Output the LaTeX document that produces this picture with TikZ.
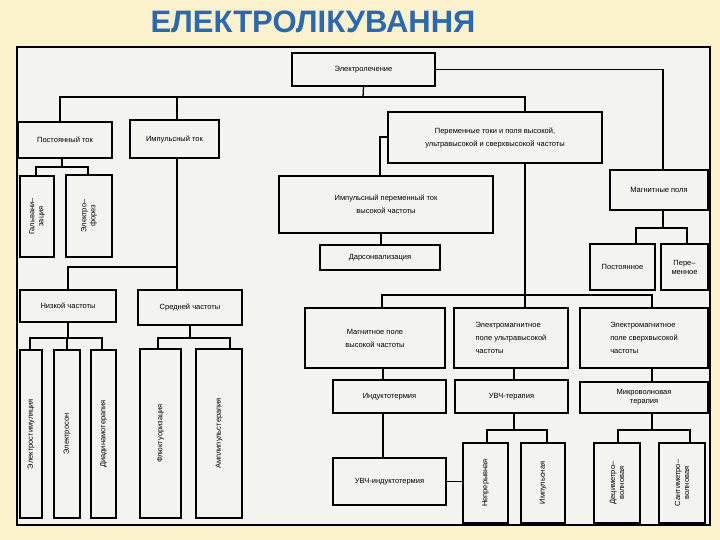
\documentclass[tikz,border=0pt]{standalone}
\usepackage{fontspec}
\setmainfont{Liberation Sans}
\definecolor{bgy}{HTML}{FBF1CC}
\definecolor{paper}{HTML}{F3F3EF}
\definecolor{ttl}{HTML}{2A68B4}
\newcommand\B[7][]{\node[bx,#1,minimum width={(#5-#3)*1pt},minimum height={(#6-#4)*1pt}] (#2) at ({(#3+#5)/2},{(#4+#6)/2}) {#7};}
\newcommand\V[7][]{\node[bx,vt,#1,minimum height={(#5-#3)*1pt},minimum width={(#6-#4)*1pt}] (#2) at ({(#3+#5)/2},{(#4+#6)/2}) {#7};}
\tikzset{bx/.style={draw,line width=1.6pt,inner sep=1pt,align=center,font=\fontsize{7.5}{13}\selectfont},
  vt/.style={rotate=90,font=\fontsize{7.5}{9}\selectfont},
  ln/.style={line width=1.3pt}}
\begin{document}
\begin{tikzpicture}[x=1pt,y=-1pt]
\fill[bgy] (0,0) rectangle (720,540);
\useasboundingbox (0,0) rectangle (720,540);
\node[font=\fontsize{31}{34}\selectfont\bfseries,text=ttl] (t) at (313,22) {ЕЛЕКТРОЛІКУВАННЯ};
\draw[fill=paper,line width=1.8pt] (17,47) rectangle (710,525);
% boxes
\B{el}{292}{53}{435}{86}{Электролечение}
\B{pt}{18}{122}{112}{158}{Постоянный ток}
\B{it}{130}{120}{219}{158}{Импульсный ток}
\V{gal}{20}{176}{54}{257}{Гальвани–\\зация}
\V{ef}{66}{175}{112}{257}{Электро–\\форез}
\B{nch}{20}{290}{116}{322}{Низкой частоты}
\B{sch}{138}{290}{242}{325}{Средней частоты}
\V{es}{20}{350}{42}{518}{Электростимуляция}
\V{eson}{54}{350}{80}{518}{Электросон}
\V{dd}{91}{350}{116}{518}{Диадинамотерапия}
\V{fl}{140}{349}{181}{518}{Флюктуоризация}
\V{am}{196}{349}{242}{518}{Амплипульстерапия}
\B{pr}{388}{112}{602}{163}{Переменные токи и поля высокой,\\ультравысокой и сверхвысокой частоты}
\B{ip}{279}{176}{493}{233}{Импульсный переменный ток\\высокой частоты}
\B{dar}{320}{245}{440}{270}{Дарсонвализация}
\B{mp}{610}{170}{708}{210}{Магнитные поля}
\B{pos}{590}{244}{655}{290}{Постоянное}
\B[font=\fontsize{7.5}{9}\selectfont]{per}{661}{244}{708}{290}{Пере–\\менное}
\B{mvch}{305}{308}{445}{368}{Магнитное поле\\высокой частоты}
\B[align=left]{uvch}{454}{308}{568}{368}{Электромагнитное\\поле ультравысокой\\частоты}
\B[align=left]{svch}{580}{308}{708}{368}{Электромагнитное\\поле сверхвысокой\\частоты}
\B{ind}{333}{380}{446}{413}{Индуктотермия}
\B{uvt}{455}{380}{568}{413}{УВЧ-терапия}
\B[font=\fontsize{7.5}{9}\selectfont]{mvt}{580}{382}{708}{413}{Микроволновая\\терапия}
\B{uvi}{333}{458}{446}{505}{УВЧ-индуктотермия}
\V{nep}{463}{443}{508}{523}{Непрерывная}
\V{imp}{521}{443}{565}{523}{Импульсная}
\V{dec}{594}{443}{640}{523}{Дециметро–\\волновая}
\V{san}{659}{443}{705}{523}{Сантиметро–\\волновая}
% connectors
\draw[ln] (el.south) -- (363,97);
\draw[ln] (pt.north -| 60,0) |- (525,97) -- (pr.north -| 525,0);
\draw[ln] (it.north -| 177,0) -- (177,97);
\draw[ln] (el.east) -| (mp.north -| 663,0);
\draw[ln] (pt.south -| 62,0) -- (62,167);
\draw[ln] (gal.east -| 36,0) |- (88,167) -- (ef.east -| 88,0);
\draw[ln] (it.south -| 177,0) -- (sch.north -| 177,0);
\draw[ln] (177,267) -| (nch.north -| 68,0);
\draw[ln] (nch.south -| 68,0) -- (68,338);
\draw[ln] (es.east -| 30,0) |- (102,338) -- (dd.east -| 102,0);
\draw[ln] (67,338) -- (eson.east -| 67,0);
\draw[ln] (sch.south -| 190,0) -- (190,338);
\draw[ln] (fl.east -| 158,0) |- (230,338) -- (am.east -| 230,0);
\draw[ln] (pr.west |- 0,137) -| (ip.north -| 380,0);
\draw[ln] (ip.south -| 381,0) -- (dar.north -| 381,0);
\draw[ln] (mp.south -| 663,0) -- (663,228);
\draw[ln] (pos.north -| 636,0) |- (687,228) -- (per.north -| 687,0);
\draw[ln] (pr.south -| 525,0) -- (uvch.north -| 525,0);
\draw[ln] (mvch.north -| 382,0) |- (652,295) -- (svch.north -| 652,0);
\draw[ln] (mvch.south -| 383,0) -- (ind.north -| 383,0);
\draw[ln] (ind.south -| 383,0) -- (uvi.north -| 383,0);
\draw[ln] (uvi.east) -- (nep.north |- uvi.east);
\draw[ln] (uvch.south -| 514,0) -- (uvt.north -| 514,0);
\draw[ln] (svch.south -| 652,0) -- (mvt.north -| 652,0);
\draw[ln] (uvt.south -| 514,0) -- (514,430);
\draw[ln] (nep.east -| 487,0) |- (547,430) -- (imp.east -| 547,0);
\draw[ln] (mvt.south -| 652,0) -- (652,430);
\draw[ln] (dec.east -| 618,0) |- (690,430) -- (san.east -| 690,0);
\end{tikzpicture}
\end{document}
